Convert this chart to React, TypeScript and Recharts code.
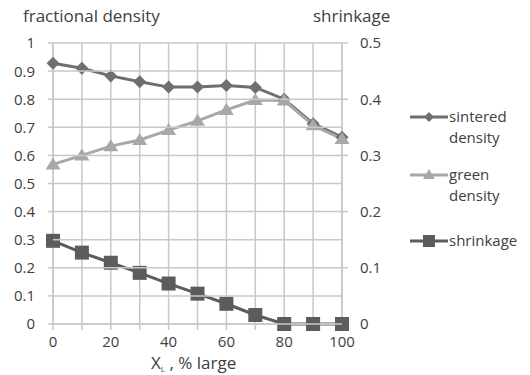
import React from 'react';
import { LineChart, Line, XAxis, YAxis } from 'recharts';

const xLarge = [0, 10, 20, 30, 40, 50, 60, 70, 80, 90, 100];
const sinteredDensity = [0.928, 0.91, 0.883, 0.862, 0.843, 0.843, 0.849, 0.842, 0.8, 0.713, 0.665];
const greenDensity = [0.568, 0.6, 0.633, 0.655, 0.69, 0.723, 0.762, 0.797, 0.795, 0.707, 0.658];
const shrinkage = [0.148, 0.127, 0.109, 0.091, 0.072, 0.054, 0.036, 0.016, 0, 0, 0];

const xTicks = [0, 10, 20, 30, 40, 50, 60, 70, 80, 90, 100];
const leftTicks = [0, 0.1, 0.2, 0.3, 0.4, 0.5, 0.6, 0.7, 0.8, 0.9, 1];
const rightTicks = [0, 0.1, 0.2, 0.3, 0.4, 0.5];

const rows = xLarge.map((x, i) => ({
  x,
  sintered: sinteredDensity[i],
  green: greenDensity[i],
  shrink: shrinkage[i],
}));

const W = 530;
const H = 375;
const MARGIN = { top: 43, right: 143, bottom: 21, left: 8 };
const Y_W = 45;
const X_H = 30;
const PLOT_W = W - MARGIN.left - MARGIN.right - 2 * Y_W;
const PLOT_H = H - MARGIN.top - MARGIN.bottom - X_H;
const L_TICK = 5;
const L_MARGIN = 13;

const FONT = '"Open Sans", sans-serif';
const TEXT = '#404040';
const GRID = '#c8c8c8';

const C_SINTER = '#6f6f6f';
const C_GREEN = '#a8a8a8';
const C_SHRINK = '#5c5c5c';

const fmt = (v: number) => String(Math.round(v * 10) / 10);

const Diamond = (p: any) => {
  const { cx, cy, fill } = p;
  if (cx == null || cy == null) return null;
  const r = 6.5;
  return <path d={`M${cx},${cy - r}L${cx + r},${cy}L${cx},${cy + r}L${cx - r},${cy}Z`} fill={fill} />;
};

const Triangle = (p: any) => {
  const { cx, cy, fill } = p;
  if (cx == null || cy == null) return null;
  return <path d={`M${cx},${cy - 7}L${cx + 7.5},${cy + 5}L${cx - 7.5},${cy + 5}Z`} fill={fill} />;
};

const Square = (p: any) => {
  const { cx, cy, fill } = p;
  if (cx == null || cy == null) return null;
  return <rect x={cx - 7} y={cy - 7} width={14} height={14} fill={fill} />;
};

const XTick = (p: any) => {
  const { x, y, payload } = p;
  if (payload.value % 20 !== 0) return null;
  return (
    <text x={x} y={y + 15} textAnchor="middle" fill={TEXT} fontSize={15} fontFamily={FONT}>
      {payload.value}
    </text>
  );
};

// left tick label + horizontal gridline at the tick position
const LeftTick = (p: any) => {
  const x = Number(p.x);
  const y = Number(p.y);
  const gx = x + L_TICK + L_MARGIN;
  return (
    <g>
      <path d={`M${gx},${y}h${PLOT_W}`} stroke={GRID} strokeWidth={1.5} fill="none" />
      <text x={x} y={y} dy="0.36em" textAnchor="end" fill={TEXT} fontSize={15} fontFamily={FONT}>
        {fmt(p.payload.value)}
      </text>
    </g>
  );
};

// vertical gridlines from x tick positions in a chart underneath
const XGrid = (p: any) => <line x1={p.x} x2={p.x} y1={p.y} y2={p.y - PLOT_H} stroke={GRID} strokeWidth={1.5} />;
const leftGrid = (p: any) => (
  <g>
    <path d={`M${Number(p.x)},${Number(p.y)}h${PLOT_W}`} stroke={GRID} strokeWidth={1.5} fill="none" />
  </g>
);

const legendItems = [
  { lines: ['sintered', 'density'], color: C_SINTER, shape: 'diamond', gap: 16 },
  { lines: ['green', 'density'], color: C_GREEN, shape: 'triangle', gap: 24 },
  { lines: ['shrinkage'], color: C_SHRINK, shape: 'square', gap: 0 },
];

function LegendIcon({ color, shape }: { color: string; shape: string }) {
  return (
    <svg width={38} height={14} style={{ flex: 'none', display: 'block' }}>
      <line x1={0} y1={7} x2={38} y2={7} stroke={color} strokeWidth={3} />
      {shape === 'diamond' && <path d="M19,2L24,7L19,12L14,7Z" fill={color} />}
      {shape === 'triangle' && <path d="M19,1L25,11L13,11Z" fill={color} />}
      {shape === 'square' && <rect x={13} y={1} width={12} height={12} fill={color} />}
    </svg>
  );
}

const layer: React.CSSProperties = { position: 'absolute', left: 0, top: 0 };

export default function App() {
  return (
    <div style={{ position: 'absolute', left: 0, top: 0, width: W, height: H, background: '#fff', fontFamily: FONT }}>
      <div style={layer}>
        <LineChart width={W} height={H} data={rows} margin={MARGIN}>
          <XAxis
            dataKey="x"
            type="number"
            domain={[0, 100]}
            ticks={xTicks}
            interval={0}
            height={X_H}
            tick={<XGrid />}
            tickLine={false}
            tickSize={0}
            tickMargin={0}
            axisLine={false}
          />
          <YAxis
            domain={[0, 1]}
            ticks={leftTicks}
            interval={0}
            width={Y_W}
            tick={leftGrid}
            tickLine={false}
            tickSize={0}
            tickMargin={0}
            axisLine={false}
          />
          <YAxis yAxisId="right" orientation="right" width={Y_W} tick={false} tickLine={false} axisLine={false} />
        </LineChart>
      </div>

      <div style={layer}>
        <LineChart width={W} height={H} data={rows} margin={MARGIN}>
          <XAxis
            dataKey="x"
            type="number"
            domain={[0, 100]}
            ticks={xTicks}
            interval={0}
            height={X_H}
            tick={<XTick />}
            tickLine={{ stroke: GRID, strokeWidth: 1.5 }}
            tickSize={6}
            axisLine={{ stroke: GRID, strokeWidth: 1.5 }}
          />
          <YAxis
            domain={[0, 1]}
            ticks={leftTicks}
            interval={0}
            width={Y_W}
            tick={LeftTick}
            tickLine={{ stroke: GRID, strokeWidth: 1.5 }}
            tickSize={L_TICK}
            tickMargin={L_MARGIN}
            axisLine={{ stroke: GRID, strokeWidth: 1.5 }}
          />
          <YAxis
            yAxisId="right"
            orientation="right"
            domain={[0, 0.5]}
            ticks={rightTicks}
            interval={0}
            width={Y_W}
            tick={{ fill: TEXT, fontSize: 15, fontFamily: FONT }}
            tickFormatter={fmt}
            tickLine={{ stroke: GRID, strokeWidth: 1.5 }}
            tickSize={6}
            tickMargin={12}
            axisLine={{ stroke: GRID, strokeWidth: 1.5 }}
          />
          <Line
            dataKey="sintered"
            stroke={C_SINTER}
            strokeWidth={3}
            dot={<Diamond fill={C_SINTER} />}
            isAnimationActive={false}
          />
          <Line
            dataKey="green"
            stroke={C_GREEN}
            strokeWidth={3}
            dot={<Triangle fill={C_GREEN} />}
            isAnimationActive={false}
          />
          <Line
            yAxisId="right"
            dataKey="shrink"
            stroke={C_SHRINK}
            strokeWidth={3}
            dot={<Square fill={C_SHRINK} />}
            isAnimationActive={false}
          />
        </LineChart>
      </div>

      <div style={{ position: 'absolute', left: 23, top: 4, fontSize: 17, color: TEXT }}>fractional density</div>
      <div style={{ position: 'absolute', left: 313, top: 4, fontSize: 17, color: TEXT }}>shrinkage</div>
      <div style={{ position: 'absolute', left: 151, top: 352, fontSize: 17, lineHeight: '22px', color: TEXT, whiteSpace: 'nowrap' }}>
        X<span style={{ fontSize: 8, verticalAlign: -3 }}>L</span> , % large
      </div>

      <div style={{ position: 'absolute', left: 410, top: 106, color: TEXT, fontSize: 15, lineHeight: '21px' }}>
        {legendItems.map((it, i) => (
          <div key={i} style={{ display: 'flex', alignItems: 'flex-start', marginBottom: it.gap }}>
            <div style={{ marginTop: 4 }}>
              <LegendIcon color={it.color} shape={it.shape} />
            </div>
            <div style={{ marginLeft: 1 }}>
              {it.lines.map((l, j) => (
                <div key={j}>{l}</div>
              ))}
            </div>
          </div>
        ))}
      </div>
    </div>
  );
}
